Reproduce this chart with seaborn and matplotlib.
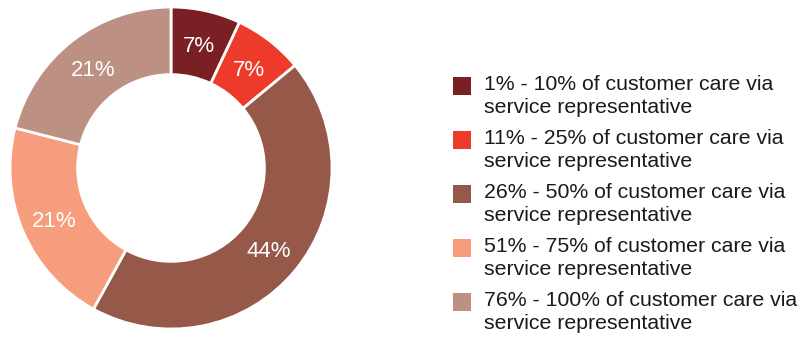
import matplotlib
matplotlib.use("Agg")
import matplotlib.pyplot as plt
from matplotlib.patches import Rectangle
import seaborn as sns

categories = [
    "1% - 10% of customer care via\nservice representative",
    "11% - 25% of customer care via\nservice representative",
    "26% - 50% of customer care via\nservice representative",
    "51% - 75% of customer care via\nservice representative",
    "76% - 100% of customer care via\nservice representative",
]
shares = [7, 7, 44, 21, 21]
colors = ["#7A1F24", "#EE3A2A", "#955849", "#F59D7C", "#BC9183"]

sns.set_theme(style="white")
plt.rcParams["font.family"] = ["Liberation Sans", "DejaVu Sans"]

W, H = 809, 337
fig = plt.figure(figsize=(W / 100, H / 100), dpi=100)
ax = fig.add_axes([10 / W, 8 / H, 322 / W, 322 / H])

wedges, texts = ax.pie(
    shares,
    colors=colors,
    startangle=90,
    counterclock=False,
    radius=1.0,
    labels=[f"{v}%" for v in shares],
    labeldistance=0.79,
    wedgeprops=dict(width=0.42, edgecolor="white", linewidth=2),
    textprops=dict(color="white", fontsize=16),
)
for t in texts:
    t.set_ha("center")
    t.set_va("center_baseline")
ax.set_xlim(-1, 1)
ax.set_ylim(-1, 1)
ax.set_aspect("equal")
ax.axis("off")

# legend: colour square beside a two-line label, laid out in pixel units
sq = 18
for i, (label, c) in enumerate(zip(categories, colors)):
    top = 77 + 54 * i
    fig.patches.append(
        Rectangle((453 / W, 1 - (top + sq) / H), sq / W, sq / H,
                  transform=fig.transFigure, facecolor=c, edgecolor="none")
    )
    fig.text(484 / W, 1 - (top - 2) / H, label, ha="left", va="top",
             fontsize=15.3, color="#1a1a1a", linespacing=1.25)

fig.savefig("out.png", dpi=100, facecolor="white")
